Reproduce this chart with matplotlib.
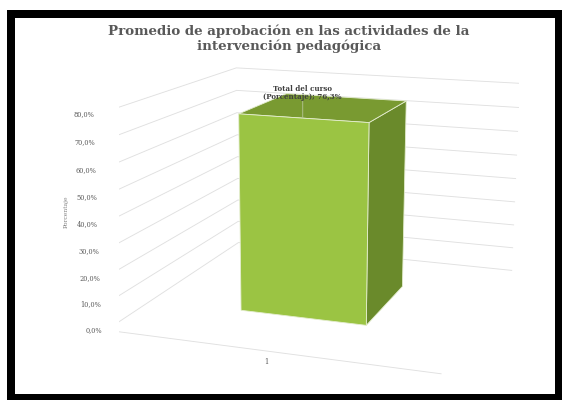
import numpy as np
import matplotlib
matplotlib.use('Agg')
import matplotlib.pyplot as plt
from matplotlib.patches import Rectangle
from matplotlib.transforms import offset_copy
from mpl_toolkits.mplot3d.art3d import Poly3DCollection

title = 'Promedio de aprobación en las actividades de la\nintervención pedagógica'
categories = ['1']
series_name = 'Total del curso\n(Porcentaje)'
values = [76.3]
yticks = [0, 10, 20, 30, 40, 50, 60, 70, 80]
ylabel = 'Porcentaje'

grid_color = '#E0E0E0'
text_color = '#595959'
front_color = '#9BC443'
side_color = '#6A8A2B'
top_color = '#799A31'
edge_color = '#E4EDCF'


def pct(v):
    return ('%.1f%%' % v).replace('.', ',')


fig = plt.figure(figsize=(5.62, 4), dpi=100)
fig.patch.set_facecolor('white')

# black frame around the chart area
frame = Rectangle((11 / 562, 2 / 400), 547.5 / 562, 384.5 / 400,
                  transform=fig.transFigure, facecolor='white',
                  edgecolor='black', linewidth=5.76, zorder=-1)
fig.add_artist(frame)

ax = fig.add_axes([0, 0, 1, 1], projection='3d')
ax.set_xlim(0, 1)
ax.set_ylim(0, 1)
ax.set_zlim(0, 0.8)
ax.set_axis_off()
ax.patch.set_visible(False)
ax.computed_zorder = False
ax.view_init(14.0, -71.0, -0.28)
ax.set_proj_type('persp', focal_length=0.582)
ax.set_box_aspect((1.57, 1.55, 1), zoom=1.214)
ax.set_position([0.068, -0.013, 1, 1])

# gridlines on side wall and back wall
for t in yticks:
    z = t / 100
    ax.plot([0, 0, 1], [0, 1, 1], [z, z, z], color=grid_color, lw=0.65, zorder=1)
    lab_tr = offset_copy(ax.transData, fig=fig, x=-4, y=0, units='dots')
    ax.text(0, 0, z, pct(t), ha='right', va='center', fontsize=4.8,
            family='DejaVu Serif', color=text_color, transform=lab_tr, zorder=1)

# category axis line along the floor front edge
ax.plot([0, 1], [0, 0], [0, 0], color=grid_color, lw=0.65, zorder=1)

bar_w = 0.4
bar_d = 0.4
for i, (cat, val) in enumerate(zip(categories, values)):
    xc = (i + 0.5) / len(categories)
    x0, x1 = xc - bar_w / 2, xc + bar_w / 2
    y0, y1 = 0.5 - bar_d / 2, 0.5 + bar_d / 2
    h = val / 100
    faces = [
        [(x0, y0, 0), (x1, y0, 0), (x1, y0, h), (x0, y0, h)],
        [(x1, y0, 0), (x1, y1, 0), (x1, y1, h), (x1, y0, h)],
        [(x0, y0, h), (x1, y0, h), (x1, y1, h), (x0, y1, h)],
    ]
    poly = Poly3DCollection(faces, facecolors=[front_color, side_color, top_color],
                            edgecolors=edge_color, linewidths=0.6, zorder=2)
    ax.add_collection3d(poly)

    cat_tr = offset_copy(ax.transData, fig=fig, x=0, y=-7, units='dots')
    ax.text(xc, 0, 0, cat, ha='center', va='top', fontsize=4.8,
            family='DejaVu Serif', color=text_color, transform=cat_tr, zorder=1)

    # data label with leader line
    lift = 0.062
    ax.plot([xc, xc], [y0, y0], [h, h + lift], color='#B7C59A', lw=0.6, zorder=3)
    ax.text(xc, y0, h + lift, '%s; %s' % (series_name, pct(val)),
            ha='center', va='bottom', fontsize=5.1, fontweight='bold',
            family='DejaVu Serif', color='#404040', linespacing=1.05, zorder=4)

fig.text(66 / 562, 1 - 212 / 400, ylabel, rotation=90, ha='center', va='center',
         fontsize=4.4, family='DejaVu Serif', color='#7F7F7F')
fig.text(289 / 562, 1 - 39 / 400, title, ha='center', va='center',
         fontsize=9.6, fontweight='bold', family='DejaVu Serif',
         color=text_color, linespacing=1.12)

fig.savefig('out.png', dpi=100)
